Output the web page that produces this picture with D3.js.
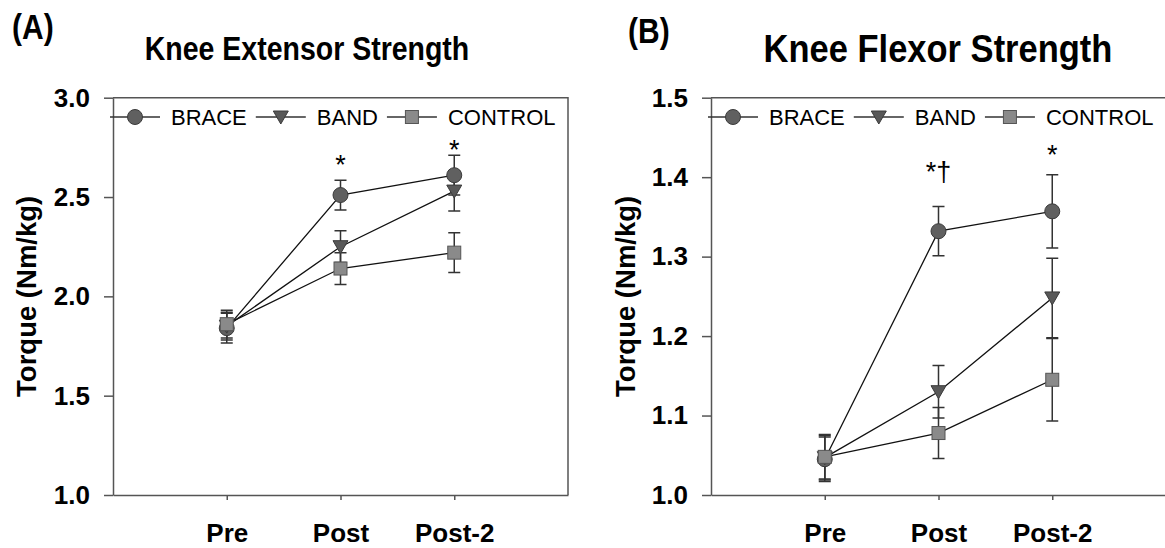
<!DOCTYPE html>
<html>
<head>
<meta charset="utf-8">
<script src="https://cdnjs.cloudflare.com/ajax/libs/d3/7.8.5/d3.min.js"></script>
<style>
  body { margin: 0; background: #fff; }
  svg text { font-family: "Liberation Sans", Arial, sans-serif; }
</style>
</head>
<body>
<div class="figure"></div>
<script>
// two panels, same layout: knee extensor (A) and knee flexor (B)

var width = 1165,
    height = 548;

var timepoints = ["Pre", "Post", "Post-2"];
var groups = ["BRACE", "BAND", "CONTROL"];

// panel A - extensor torque (Nm/kg), mean and error per timepoint
var extBrace = [1.84, 2.51, 2.61],
    extBraceErr = [0.075, 0.075, 0.10],
    extBand = [1.85, 2.25, 2.53],
    extBandErr = [0.07, 0.08, 0.10],
    extControl = [1.86, 2.14, 2.22],
    extControlErr = [0.07, 0.08, 0.10];
var extTicks = [1.0, 1.5, 2.0, 2.5, 3.0];
var extMarks = [{ at: "Post", text: "*", y: 2.686 }, { at: "Post-2", text: "*", y: 2.762 }];

// panel B - flexor torque (Nm/kg)
var flexBrace = [1.045, 1.332, 1.357],
    flexBraceErr = [0.028, 0.031, 0.046],
    flexBand = [1.047, 1.13, 1.248],
    flexBandErr = [0.028, 0.033, 0.05],
    flexControl = [1.048, 1.078, 1.145],
    flexControlErr = [0.028, 0.032, 0.052];
var flexTicks = [1.0, 1.1, 1.2, 1.3, 1.4, 1.5];
var flexMarks = [{ at: "Post", text: "*†", y: 1.413 }, { at: "Post-2", text: "*", y: 1.434 }];

var svg = d3.select(".figure").append("svg")
    .attr("width", width)
    .attr("height", height);

var markerStyle = {
  BRACE:   { fill: "#606060", stroke: "#3a3a3a" },
  BAND:    { fill: "#585858", stroke: "#3a3a3a" },
  CONTROL: { fill: "#8a8a8a", stroke: "#555" }
};

var drawMarker = function(g, group, x, y) {
  var st = markerStyle[group];
  var m;
  if (group === "BRACE") {
    m = g.append("circle").attr("cx", x).attr("cy", y).attr("r", 7.5);
  } else if (group === "BAND") {
    m = g.append("path")
      .attr("d", "M" + (x - 7.5) + "," + (y - 6) + "L" + (x + 7.5) + "," + (y - 6) + "L" + x + "," + (y + 7) + "Z");
  } else {
    m = g.append("rect").attr("x", x - 6.5).attr("y", y - 6.5).attr("width", 13).attr("height", 13);
  }
  m.attr("fill", st.fill).attr("stroke", st.stroke).attr("stroke-width", 1);
};

// bold text stretched a little taller, like the exported figure
var tallText = function(x, y, size, txt, anchor) {
  return svg.append("text")
    .attr("transform", "translate(" + x + "," + y + ") scale(1,1.14)")
    .attr("text-anchor", anchor)
    .attr("font-size", size)
    .attr("font-weight", "bold")
    .text(txt);
};

var drawPanel = function(p) {
  var w = 455, h = 397.3;
  var g = svg.append("g").attr("transform", "translate(" + p.left + "," + p.top + ")");

  var x = d3.scalePoint().domain(timepoints).range([0, w]).padding(1);
  var y = d3.scaleLinear().domain(p.domain).range([h, 0]);

  // frame: top and right lines
  g.append("path")
    .attr("d", "M0,0H" + w + "V" + h)
    .attr("fill", "none")
    .attr("stroke", "#555")
    .attr("stroke-width", 1.5);

  var yAxis = g.append("g")
    .call(d3.axisLeft(y).tickValues(p.ticks).tickFormat(d3.format(".1f"))
      .tickSize(9).tickSizeOuter(0).tickPadding(14));
  yAxis.selectAll("text")
    .attr("font-size", 26).attr("font-weight", "bold").attr("fill", "#000");

  var xAxis = g.append("g")
    .attr("transform", "translate(0," + h + ")")
    .call(d3.axisBottom(x).tickSize(5).tickSizeOuter(0).tickPadding(23.5));
  xAxis.selectAll("text")
    .attr("font-size", 26).attr("font-weight", "bold").attr("fill", "#000");

  [yAxis, xAxis].forEach(function(a) {
    a.select(".domain").attr("stroke", "#555").attr("stroke-width", 1.5);
    a.selectAll(".tick line").attr("stroke", "#555").attr("stroke-width", 1.5);
  });

  // y title
  g.append("text")
    .attr("transform", "translate(" + (p.yLabelX - p.left) + "," + (h / 2) + ") rotate(-90)")
    .attr("text-anchor", "middle")
    .attr("dy", "0.36em")
    .attr("font-size", 27.5)
    .attr("font-weight", "bold")
    .text("Torque (Nm/kg)");

  // panel letter and title
  tallText(p.letterX, p.letterY, 30, p.letter, "start");
  tallText(p.titleX, p.titleY, p.titleSize, p.title, "middle");

  // lines
  var line = d3.line()
    .x(function(d, i) { return x(timepoints[i]); })
    .y(function(d) { return y(d); });

  p.series.forEach(function(s) {
    g.append("path")
      .datum(s.values)
      .attr("d", line)
      .attr("fill", "none")
      .attr("stroke", "#111")
      .attr("stroke-width", 1.3);
  });

  // error bars
  p.series.forEach(function(s) {
    s.values.forEach(function(v, i) {
      var cx = x(timepoints[i]),
          top = y(v + s.err[i]),
          bot = y(v - s.err[i]);
      g.append("path")
        .attr("d", "M" + cx + "," + top + "V" + bot +
          "M" + (cx - 6) + "," + top + "H" + (cx + 6) +
          "M" + (cx - 6) + "," + bot + "H" + (cx + 6))
        .attr("fill", "none")
        .attr("stroke", "#333")
        .attr("stroke-width", 1.5);
    });
  });

  // markers
  p.series.forEach(function(s) {
    s.values.forEach(function(v, i) {
      drawMarker(g, s.name, x(timepoints[i]), y(v));
    });
  });

  // significance marks (y is where the star's centre sits)
  p.marks.forEach(function(m) {
    g.append("text")
      .attr("x", x(m.at)).attr("y", y(m.y))
      .attr("text-anchor", "middle")
      .attr("dy", "0.53em")
      .attr("font-size", 27)
      .text(m.text);
  });

  // legend along the top
  var lx = -3, ly = 19.3;
  p.series.forEach(function(s) {
    g.append("line")
      .attr("x1", lx).attr("x2", lx + 50)
      .attr("y1", ly).attr("y2", ly)
      .attr("stroke", "#333").attr("stroke-width", 1.3);
    drawMarker(g, s.name, lx + 25, ly);
    var t = g.append("text")
      .attr("x", lx + 61).attr("y", ly)
      .attr("dy", "0.36em")
      .attr("font-size", 22)
      .text(s.name);
    lx = lx + 61 + t.node().getComputedTextLength() + 9;
  });
};

drawPanel({
  left: 113, top: 97.7,
  domain: [1.0, 3.0], ticks: extTicks,
  yLabelX: 26,
  letter: "(A)", letterX: 12, letterY: 39,
  title: "Knee Extensor Strength", titleX: 307, titleY: 60, titleSize: 28.5,
  marks: extMarks,
  series: [
    { name: groups[0], values: extBrace, err: extBraceErr },
    { name: groups[1], values: extBand, err: extBandErr },
    { name: groups[2], values: extControl, err: extControlErr }
  ]
});

drawPanel({
  left: 711, top: 97.7,
  domain: [1.0, 1.5], ticks: flexTicks,
  yLabelX: 625,
  letter: "(B)", letterX: 628, letterY: 43,
  title: "Knee Flexor Strength", titleX: 938, titleY: 62, titleSize: 34.5,
  marks: flexMarks,
  series: [
    { name: groups[0], values: flexBrace, err: flexBraceErr },
    { name: groups[1], values: flexBand, err: flexBandErr },
    { name: groups[2], values: flexControl, err: flexControlErr }
  ]
});
</script>
</body>
</html>
